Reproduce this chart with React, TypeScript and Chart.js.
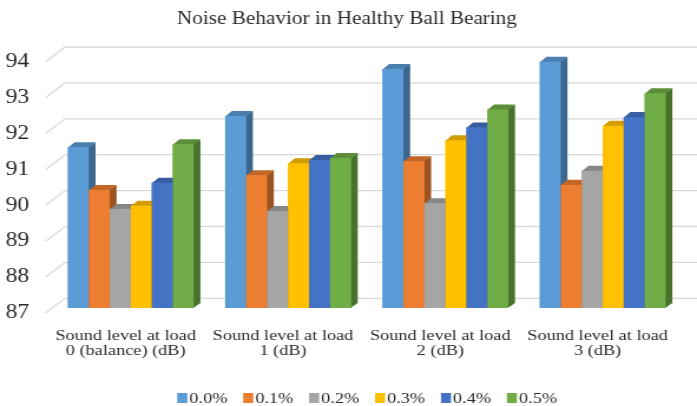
import React, { useEffect, useRef } from "react";
import { Chart, registerables } from "chart.js";

Chart.register(...registerables);

const TITLE = "Noise Behavior in Healthy Ball Bearing";
const CATEGORIES = [
  ["Sound level at load", "0 (balance) (dB)"],
  ["Sound level at load", "1 (dB)"],
  ["Sound level at load", "2 (dB)"],
  ["Sound level at load", "3 (dB)"],
];
const SERIES_NAMES = ["0.0%", "0.1%", "0.2%", "0.3%", "0.4%", "0.5%"];
const SERIES_COLORS = ["#5B9BD5", "#ED7D31", "#A5A5A5", "#FFC000", "#4472C4", "#70AD47"];
const S00 = [91.48, 92.35, 93.66, 93.86];
const S01 = [90.29, 90.7, 91.09, 90.43];
const S02 = [89.76, 89.7, 89.92, 90.82];
const S03 = [89.85, 91.03, 91.67, 92.08];
const S04 = [90.49, 91.12, 92.03, 92.32];
const S05 = [91.56, 91.18, 92.53, 92.98];
const SERIES_VALUES = [S00, S01, S02, S03, S04, S05];
const Y_MIN = 87;
const Y_MAX = 94;

const FONT = "'Liberation Serif', 'Times New Roman', serif";
const TEXT = "#2a2a2a";
const STRETCH = 697 / 591;

function shade(hex: string, f: number) {
  const n = parseInt(hex.slice(1), 16);
  const r = Math.round(((n >> 16) & 255) * f);
  const g = Math.round(((n >> 8) & 255) * f);
  const b = Math.round((n & 255) * f);
  return `rgb(${r},${g},${b})`;
}

const threeD = {
  id: "threeD",
  beforeDatasetsDraw(chart: any) {
    const ctx = chart.ctx;
    const ys = chart.scales.y;
    ctx.save();
    ctx.strokeStyle = "#D9D9D9";
    ctx.lineWidth = 1.3;
    for (let v = Y_MIN; v <= Y_MAX; v++) {
      const yv = ys.getPixelForValue(v);
      ctx.beginPath();
      ctx.moveTo(38.7, yv + 5);
      ctx.lineTo(55.1, yv - 9.7);
      ctx.lineTo(chart.width, yv - 9.7);
      ctx.stroke();
    }
    ctx.restore();
  },
  afterDatasetsDraw(chart: any) {
    const ctx = chart.ctx;
    const ys = chart.scales.y;
    const DX = 5.7;
    const DY = 5;
    const base = ys.getPixelForValue(Y_MIN);
    ctx.save();
    const n = chart.data.labels.length;
    for (let j = 0; j < n; j++) {
      chart.data.datasets.forEach((ds: any, i: number) => {
        const el = chart.getDatasetMeta(i).data[j];
        if (!el) return;
        const { x, y, width } = el.getProps(["x", "y", "width"], true);
        const l = x - width / 2;
        const r = x + width / 2;
        const c = SERIES_COLORS[i];
        ctx.fillStyle = shade(c, 0.66);
        ctx.beginPath();
        ctx.moveTo(r - 0.5, y);
        ctx.lineTo(r + DX, y - DY);
        ctx.lineTo(r + DX, base - DY);
        ctx.lineTo(r - 0.5, base);
        ctx.closePath();
        ctx.fill();
        ctx.fillStyle = shade(c, 0.82);
        ctx.beginPath();
        ctx.moveTo(l, y + 0.5);
        ctx.lineTo(l + DX, y - DY);
        ctx.lineTo(r + DX, y - DY);
        ctx.lineTo(r, y + 0.5);
        ctx.closePath();
        ctx.fill();
        ctx.fillStyle = c;
        ctx.fillRect(l, y, width, base - y);
      });
    }
    ctx.restore();
  },
  afterDraw(chart: any) {
    const ctx = chart.ctx;
    ctx.save();
    ctx.font = `15.5px ${FONT}`;
    ctx.textBaseline = "middle";
    ctx.textAlign = "left";
    const startX = 150.3;
    const step = 55.9;
    chart.data.datasets.forEach((ds: any, i: number) => {
      const bx = startX + i * step;
      ctx.fillStyle = ds.backgroundColor;
      ctx.fillRect(bx, 393, 8.5, 10);
      ctx.fillStyle = TEXT;
      ctx.fillText(ds.label, bx + 10.2, 398.5);
    });
    ctx.restore();
  },
};

export default function App() {
  const ref = useRef<HTMLCanvasElement | null>(null);
  useEffect(() => {
    if (!ref.current) return;
    const chart = new Chart(ref.current, {
      type: "bar",
      data: {
        labels: CATEGORIES as any,
        datasets: SERIES_NAMES.map((name, i) => ({
          label: name,
          data: SERIES_VALUES[i],
          backgroundColor: SERIES_COLORS[i],
          borderWidth: 0,
          barPercentage: 1,
          categoryPercentage: 0.8,
        })),
      },
      options: {
        animation: false,
        responsive: true,
        maintainAspectRatio: false,
        devicePixelRatio: 1,
        layout: { padding: { left: 0, right: 2.7, top: 0, bottom: 0 } },
        plugins: {
          legend: { display: false },
          tooltip: { enabled: false },
          title: {
            display: true,
            text: TITLE,
            color: TEXT,
            font: { family: FONT, size: 18, weight: "normal", lineHeight: 1.2 },
            padding: { top: 8.2, bottom: 26.9 },
          },
        },
        scales: {
          x: {
            grid: { display: false, drawTicks: false },
            border: { display: false },
            ticks: {
              color: TEXT,
              font: { family: FONT, size: 15.5, lineHeight: 1.0 },
              padding: 20,
              labelOffset: -4.3,
              maxRotation: 0,
              minRotation: 0,
              autoSkip: false,
            },
            afterFit: (s: any) => {
              s.height = 98;
            },
          },
          y: {
            min: Y_MIN,
            max: Y_MAX,
            grid: { display: false, drawTicks: false },
            border: { display: false },
            ticks: {
              stepSize: 1,
              color: TEXT,
              font: { family: FONT, size: 20 },
              padding: 19.4,
              labelOffset: 5,
            },
            afterFit: (s: any) => {
              s.width = 44.2;
            },
          },
        },
      },
      plugins: [threeD],
    });
    return () => chart.destroy();
  }, []);
  return (
    <div
      style={{
        position: "fixed",
        left: 0,
        top: 0,
        width: 697,
        height: 406,
        overflow: "hidden",
        background: "#ffffff",
      }}
    >
      <div
        style={{
          width: 591,
          height: 406,
          transform: `scaleX(${STRETCH})`,
          transformOrigin: "left top",
        }}
      >
        <canvas ref={ref} style={{ display: "block" }} />
      </div>
    </div>
  );
}
